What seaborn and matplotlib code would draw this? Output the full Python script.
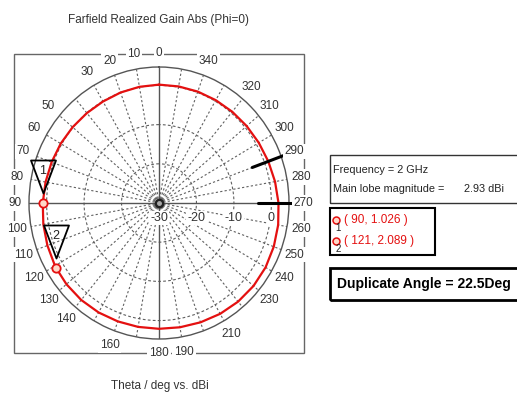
import numpy as np
import pandas as pd
import matplotlib
matplotlib.use("Agg")
import matplotlib.pyplot as plt
import seaborn as sns
from matplotlib.patches import Rectangle
from matplotlib.path import Path
from matplotlib.transforms import offset_copy

# ---- data -------------------------------------------------------------
theta_deg = [0, 10, 20, 30, 40, 50, 60, 70, 80, 90, 100, 110, 120, 121, 130,
             140, 150, 160, 170, 180, 190, 200, 210, 220, 230, 240, 250, 260,
             270, 280, 290, 300, 310, 320, 330, 340, 350, 360]
gain_dbi = [0.2, 0.1, 0.0, -0.1, -0.05, 0.1, 0.3, 0.5, 0.75, 1.026, 1.35, 1.7,
            2.06, 2.089, 2.25, 2.3, 2.25, 2.15, 2.1, 2.1, 2.2, 2.4, 2.65, 2.85,
            2.93, 2.85, 2.6, 2.3, 1.9, 1.45, 1.05, 0.75, 0.55, 0.4, 0.3, 0.25,
            0.2, 0.2]

marker_theta = [90, 121]
marker_gain = [1.026, 2.089]
marker_ids = ["1", "2"]

angle_labels = [0, 10, 20, 30, 50, 60, 70, 80, 90, 100, 110, 120, 130, 140,
                160, 180, 190, 210, 230, 240, 250, 260, 270, 280, 290, 300,
                310, 320, 340]
ring_values = [-20, -10, 0]
radial_labels = [-30, -20, -10, 0]
lobe_lines_deg = [270, 290]

frequency_ghz = 2
main_lobe_dbi = 2.93
duplicate_angle = 22.5

R_MIN, R_MAX = -30, 4.7

# ---- figure -----------------------------------------------------------
sns.set_style("white")
plt.rcParams["font.family"] = ["Liberation Sans", "DejaVu Sans"]

W, H = 517, 396
fig = plt.figure(figsize=(W / 100, H / 100), dpi=100)

def fx(px):
    return px / W

def fy(py):
    return 1 - py / H

cx, cy, rx, ry = 159, 203, 130, 136
ax = fig.add_axes([fx(cx - rx), fy(cy + ry), 2 * rx / W, 2 * ry / H],
                  projection="polar")
ax.set_aspect("auto")
ax.set_theta_zero_location("N")
ax.set_theta_direction(1)
ax.grid(False)
ax.set_xticks([])
ax.set_yticks([])
ax.spines["polar"].set_color("#555555")
ax.spines["polar"].set_linewidth(1.0)

# dashed spokes and rings
grid_col = "#606060"
for a in range(0, 360, 10):
    if a % 90 == 0:
        continue
    ax.plot([np.radians(a)] * 2, [R_MIN, R_MAX], ls=(0, (2, 2)),
            color=grid_col, lw=0.8, zorder=1)
full = np.linspace(0, 2 * np.pi, 361)
for rv in ring_values:
    ax.plot(full, np.full_like(full, rv), ls=(0, (2.5, 2)), color=grid_col,
            lw=0.8, zorder=1)
# solid cross through the centre
for a in (0, 90, 180, 270):
    ax.plot([np.radians(a)] * 2, [R_MIN, R_MAX], color="#555555", lw=1.0,
            zorder=1)

# pattern curve
df = pd.DataFrame({"theta": np.radians(theta_deg), "gain": gain_dbi})
sns.lineplot(data=df, x="theta", y="gain", ax=ax, color="#e41010", lw=1.6,
             sort=False, estimator=None, zorder=4)
ax.set_xlabel("")
ax.set_ylabel("")
ax.set_ylim(R_MIN, R_MAX)

# main lobe marks
for a in lobe_lines_deg:
    ax.plot([np.radians(a)] * 2, [-3.5, R_MAX + 0.8], color="black", lw=2.2,
            zorder=5, clip_on=False)

# centre symbol
ax.plot([0], [R_MIN], marker="o", ms=6, color="#222222", zorder=6)
ax.plot([0], [R_MIN], marker="o", ms=2.5, color="#aaaaaa", zorder=7)

# markers with triangular flags
tri = Path([(0, 10), (-12.5, 43), (12.5, 43), (0, 10)],
           [Path.MOVETO, Path.LINETO, Path.LINETO, Path.CLOSEPOLY])
for t, g, lab in zip(marker_theta, marker_gain, marker_ids):
    ax.plot([np.radians(t)], [g], marker=tri, ms=2 * 43 * 0.72,
            mfc="none", mec="black", mew=1.3, zorder=8, clip_on=False)
    ax.plot([np.radians(t)], [g], marker="o", ms=6, mfc="#ffd8c8",
            mec="#e41010", mew=1.3, zorder=9, clip_on=False)
    ax.annotate(lab, (np.radians(t), g), xytext=(0, 23), textcoords="offset points",
                ha="center", va="center", fontsize=9, color="#222222",
                zorder=9)

# angle labels around the dial
lab_kw = dict(fontsize=8.5, color="#333333", ha="center", va="center",
              clip_on=False, zorder=10,
              bbox=dict(boxstyle="square,pad=0.15", fc="white", ec="none"))
for a in angle_labels:
    rad = np.radians(a)
    xn, yn = -np.sin(rad), np.cos(rad)
    t = 1.11
    if abs(xn) > 1e-9:
        t = min(t, 1.115 / abs(xn))
    if abs(yn) > 1e-9:
        t = min(t, 1.10 / abs(yn))
    ax.text(rad, R_MIN + t * (R_MAX - R_MIN), str(a), **lab_kw)

# radial value labels along the 270 direction
off = offset_copy(ax.transData, fig=fig, x=0, y=-15, units="dots")
for rv in radial_labels:
    ax.text(np.radians(270), rv, str(rv), transform=off, fontsize=9,
            color="#333333", ha="center", va="center", zorder=10,
            bbox=dict(boxstyle="square,pad=0.1", fc="white", ec="none"))

# surrounding frame
fig.add_artist(Rectangle((fx(14), fy(353)), fx(304) - fx(14), fy(54) - fy(353),
                         transform=fig.transFigure, fill=False, ec="#666666",
                         lw=1.0, zorder=-1))

# titles
fig.text(fx(158), fy(20), "Farfield Realized Gain Abs (Phi=0)", ha="center",
         va="center", fontsize=8.5, color="#333333")
fig.text(fx(160), fy(386), "Theta / deg vs. dBi", ha="center", va="center",
         fontsize=8.5, color="#333333")

# info box
fig.add_artist(Rectangle((fx(330), fy(203)), fx(540) - fx(330), fy(155) - fy(203),
                         transform=fig.transFigure, fill=False, ec="#333333",
                         lw=1.0))
fig.text(fx(333), fy(170), f"Frequency = {frequency_ghz} GHz", ha="left",
         va="center", fontsize=7.8, color="#222222")
fig.text(fx(333), fy(189), "Main lobe magnitude =", ha="left", va="center",
         fontsize=7.8, color="#222222")
fig.text(fx(464), fy(189), f"{main_lobe_dbi:.2f} dBi", ha="left", va="center",
         fontsize=7.8, color="#222222")

# marker readout box
fig.add_artist(Rectangle((fx(330), fy(255)), fx(435) - fx(330), fy(208) - fy(255),
                         transform=fig.transFigure, fill=False, ec="black",
                         lw=1.5))
for i, (t, g, lab) in enumerate(zip(marker_theta, marker_gain, marker_ids)):
    yy = 220 + 21 * i
    fig.lines.append(plt.Line2D([fx(336)], [fy(yy)], marker="o", ms=5,
                                mfc="#ffd8c8", mec="#e41010", mew=1.1,
                                transform=fig.transFigure))
    fig.text(fx(338), fy(yy + 8), lab, ha="center", va="center", fontsize=7,
             color="#222222")
    fig.text(fx(344), fy(yy), f"( {t}, {g:.3f} )", ha="left", va="center",
             fontsize=8.5, color="#e41010")

# duplicate angle box
fig.add_artist(Rectangle((fx(330), fy(300)), fx(540) - fx(330), fy(268) - fy(300),
                         transform=fig.transFigure, fill=False, ec="black",
                         lw=2.0))
fig.text(fx(337), fy(284), f"Duplicate Angle = {duplicate_angle}Deg",
         ha="left", va="center", fontsize=10, fontweight="bold",
         color="black")

fig.savefig("out.png", dpi=100)
